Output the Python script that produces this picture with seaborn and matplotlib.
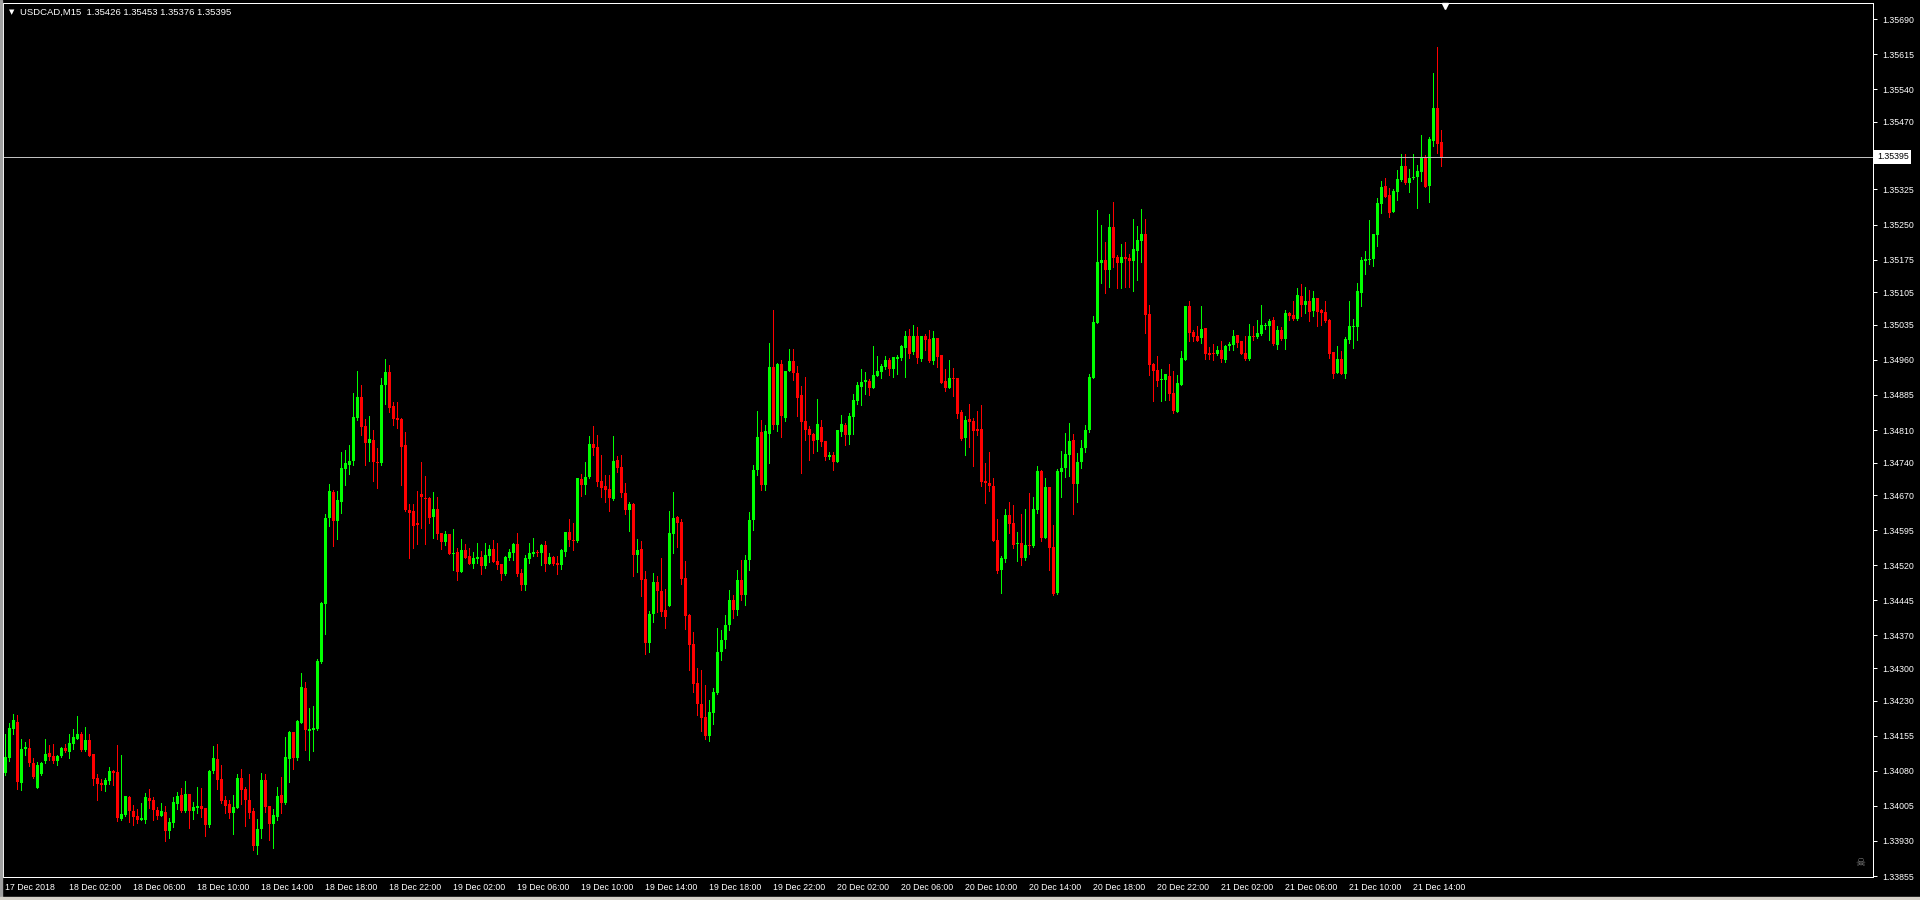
import numpy as np
import pandas as pd
import matplotlib
matplotlib.use("Agg")
import matplotlib.pyplot as plt
import matplotlib.transforms as mtransforms
from matplotlib.patches import Rectangle
import seaborn as sns

# ---- data: USDCAD M15 bars from 17 Dec 2018 22:00 ----
symbol = "USDCAD,M15"
first_bar = "2018-12-17 22:00"

opens = [
    1.34076, 1.34108, 1.34170, 1.34185, 1.34055, 1.34127, 1.34129, 1.34097, 1.34044, 1.34073,
    1.34101, 1.34118, 1.34112, 1.34101, 1.34112, 1.34129, 1.34121, 1.34138, 1.34148, 1.34159,
    1.34125, 1.34146, 1.34116, 1.34065, 1.34054, 1.34050, 1.34058, 1.34079, 1.34078, 1.33977,
    1.33986, 1.34024, 1.33994, 1.33984, 1.33976, 1.33976, 1.34022, 1.34018, 1.33996, 1.33984,
    1.33992, 1.33952, 1.33969, 1.34010, 1.34028, 1.33994, 1.34031, 1.33994, 1.34001, 1.34005,
    1.34001, 1.33964, 1.34080, 1.34106, 1.34063, 1.34018, 1.34009, 1.33989, 1.34001, 1.34065,
    1.34041, 1.34018, 1.33994, 1.33920, 1.33956, 1.34061, 1.34005, 1.33967, 1.33982, 1.34028,
    1.34011, 1.34106, 1.34163, 1.34108, 1.34183, 1.34258, 1.34166, 1.34168, 1.34170, 1.34313,
    1.34437, 1.34622, 1.34677, 1.34615, 1.34656, 1.34727, 1.34735, 1.34744, 1.34836, 1.34881,
    1.34819, 1.34783, 1.34789, 1.34741, 1.34740, 1.34906, 1.34934, 1.34862, 1.34836, 1.34834,
    1.34778, 1.34639, 1.34637, 1.34611, 1.34673, 1.34665, 1.34665, 1.34624, 1.34641, 1.34590,
    1.34570, 1.34587, 1.34545, 1.34549, 1.34506, 1.34553, 1.34540, 1.34523, 1.34534, 1.34538,
    1.34519, 1.34540, 1.34555, 1.34530, 1.34523, 1.34502, 1.34536, 1.34547, 1.34566, 1.34504,
    1.34478, 1.34534, 1.34545, 1.34549, 1.34547, 1.34564, 1.34523, 1.34538, 1.34525, 1.34521,
    1.34549, 1.34592, 1.34575, 1.34572, 1.34705, 1.34692, 1.34709, 1.34780, 1.34774, 1.34701,
    1.34690, 1.34684, 1.34662, 1.34746, 1.34731, 1.34675, 1.34639, 1.34652, 1.34542, 1.34555,
    1.34491, 1.34354, 1.34416, 1.34485, 1.34465, 1.34425, 1.34433, 1.34587, 1.34624, 1.34613,
    1.34493, 1.34414, 1.34352, 1.34268, 1.34223, 1.34196, 1.34155, 1.34204, 1.34247, 1.34335,
    1.34360, 1.34392, 1.34446, 1.34425, 1.34489, 1.34457, 1.34532, 1.34617, 1.34724, 1.34806,
    1.34692, 1.34801, 1.34945, 1.34821, 1.34951, 1.34836, 1.34936, 1.34958, 1.34932, 1.34885,
    1.34829, 1.34812, 1.34801, 1.34789, 1.34816, 1.34786, 1.34752, 1.34757, 1.34742, 1.34806,
    1.34821, 1.34799, 1.34838, 1.34872, 1.34902, 1.34913, 1.34915, 1.34900, 1.34926, 1.34934,
    1.34945, 1.34960, 1.34941, 1.34962, 1.34964, 1.34986, 1.35011, 1.34977, 1.35011, 1.34962,
    1.35011, 1.35005, 1.34958, 1.35007, 1.34971, 1.34915, 1.34900, 1.34921, 1.34921, 1.34849,
    1.34793, 1.34834, 1.34829, 1.34812, 1.34812, 1.34701, 1.34697, 1.34690, 1.34575, 1.34510,
    1.34534, 1.34628, 1.34611, 1.34566, 1.34568, 1.34536, 1.34564, 1.34562, 1.34639, 1.34722,
    1.34579, 1.34688, 1.34560, 1.34461, 1.34720, 1.34729, 1.34757, 1.34789, 1.34694, 1.34742,
    1.34772, 1.34810, 1.34921, 1.35039, 1.35168, 1.35174, 1.35153, 1.35245, 1.35180, 1.35168,
    1.35180, 1.35178, 1.35172, 1.35193, 1.35215, 1.35230, 1.35058, 1.34951, 1.34938, 1.34917,
    1.34917, 1.34926, 1.34889, 1.34849, 1.34906, 1.34960, 1.35075, 1.35020, 1.35011, 1.35007,
    1.35028, 1.34975, 1.34975, 1.34973, 1.34981, 1.34960, 1.34990, 1.34992, 1.35013, 1.35001,
    1.34975, 1.34962, 1.35011, 1.35009, 1.35015, 1.35033, 1.35033, 1.35046, 1.34992, 1.35024,
    1.35005, 1.35061, 1.35056, 1.35048, 1.35097, 1.35078, 1.35086, 1.35065, 1.35093, 1.35067,
    1.35063, 1.35046, 1.34977, 1.34932, 1.34962, 1.34930, 1.35003, 1.35031, 1.35031, 1.35103,
    1.35172, 1.35174, 1.35176, 1.35228, 1.35294, 1.35332, 1.35313, 1.35277, 1.35320, 1.35345,
    1.35375, 1.35339, 1.35350, 1.35352, 1.35362, 1.35395, 1.35332, 1.35429, 1.35499, 1.35426,
]
highs = [
    1.34159, 1.34183, 1.34202, 1.34200, 1.34148, 1.34142, 1.34148, 1.34107, 1.34099, 1.34100,
    1.34148, 1.34136, 1.34138, 1.34114, 1.34131, 1.34137, 1.34160, 1.34170, 1.34198, 1.34163,
    1.34174, 1.34159, 1.34116, 1.34073, 1.34063, 1.34065, 1.34088, 1.34082, 1.34136, 1.34114,
    1.34026, 1.34026, 1.34007, 1.33999, 1.34011, 1.34033, 1.34041, 1.34024, 1.34003, 1.34011,
    1.34005, 1.33979, 1.34024, 1.34035, 1.34043, 1.34058, 1.34031, 1.34014, 1.34046, 1.34044,
    1.34001, 1.34082, 1.34134, 1.34138, 1.34093, 1.34026, 1.34018, 1.34028, 1.34073, 1.34084,
    1.34046, 1.34073, 1.34001, 1.33977, 1.34076, 1.34073, 1.34005, 1.33999, 1.34046, 1.34067,
    1.34153, 1.34166, 1.34163, 1.34189, 1.34290, 1.34270, 1.34215, 1.34219, 1.34320, 1.34442,
    1.34630, 1.34694, 1.34682, 1.34679, 1.34763, 1.34767, 1.34778, 1.34889, 1.34936, 1.34906,
    1.34834, 1.34840, 1.34810, 1.34772, 1.34921, 1.34962, 1.34949, 1.34871, 1.34871, 1.34836,
    1.34806, 1.34652, 1.34652, 1.34679, 1.34742, 1.34712, 1.34667, 1.34677, 1.34667, 1.34590,
    1.34594, 1.34587, 1.34598, 1.34557, 1.34577, 1.34566, 1.34557, 1.34549, 1.34568, 1.34551,
    1.34568, 1.34564, 1.34575, 1.34568, 1.34523, 1.34540, 1.34555, 1.34568, 1.34590, 1.34512,
    1.34542, 1.34568, 1.34579, 1.34553, 1.34566, 1.34572, 1.34547, 1.34540, 1.34540, 1.34555,
    1.34592, 1.34619, 1.34611, 1.34707, 1.34716, 1.34742, 1.34797, 1.34819, 1.34799, 1.34757,
    1.34714, 1.34714, 1.34797, 1.34754, 1.34757, 1.34697, 1.34656, 1.34654, 1.34577, 1.34572,
    1.34508, 1.34422, 1.34504, 1.34497, 1.34536, 1.34470, 1.34637, 1.34677, 1.34626, 1.34619,
    1.34530, 1.34416, 1.34378, 1.34301, 1.34296, 1.34264, 1.34232, 1.34258, 1.34386, 1.34382,
    1.34414, 1.34467, 1.34457, 1.34510, 1.34532, 1.34542, 1.34634, 1.34735, 1.34851, 1.34831,
    1.34821, 1.34996, 1.35067, 1.34953, 1.34960, 1.34936, 1.34983, 1.34983, 1.34947, 1.34904,
    1.34923, 1.34819, 1.34804, 1.34876, 1.34831, 1.34786, 1.34763, 1.34763, 1.34810, 1.34842,
    1.34825, 1.34846, 1.34887, 1.34913, 1.34941, 1.34934, 1.34919, 1.34990, 1.34968, 1.34951,
    1.34968, 1.34964, 1.34966, 1.34971, 1.34992, 1.35022, 1.35026, 1.35035, 1.35031, 1.35011,
    1.35015, 1.35024, 1.35022, 1.35007, 1.34971, 1.34941, 1.34960, 1.34943, 1.34921, 1.34853,
    1.34840, 1.34866, 1.34836, 1.34851, 1.34864, 1.34739, 1.34763, 1.34707, 1.34619, 1.34540,
    1.34641, 1.34656, 1.34650, 1.34592, 1.34630, 1.34641, 1.34675, 1.34667, 1.34733, 1.34724,
    1.34707, 1.34688, 1.34607, 1.34727, 1.34765, 1.34804, 1.34825, 1.34801, 1.34761, 1.34789,
    1.34821, 1.34930, 1.35054, 1.35281, 1.35250, 1.35213, 1.35272, 1.35298, 1.35185, 1.35208,
    1.35213, 1.35187, 1.35262, 1.35247, 1.35283, 1.35262, 1.35078, 1.34953, 1.34968, 1.34941,
    1.34930, 1.34951, 1.34936, 1.34928, 1.34979, 1.35075, 1.35086, 1.35024, 1.35033, 1.35075,
    1.35028, 1.34988, 1.34994, 1.34990, 1.35001, 1.34992, 1.34998, 1.35024, 1.35013, 1.35001,
    1.35011, 1.35037, 1.35033, 1.35046, 1.35078, 1.35039, 1.35048, 1.35052, 1.35033, 1.35031,
    1.35067, 1.35063, 1.35086, 1.35114, 1.35123, 1.35116, 1.35110, 1.35108, 1.35093, 1.35069,
    1.35086, 1.35048, 1.34977, 1.34990, 1.34979, 1.35009, 1.35086, 1.35048, 1.35125, 1.35180,
    1.35193, 1.35260, 1.35230, 1.35307, 1.35343, 1.35350, 1.35328, 1.35326, 1.35367, 1.35401,
    1.35401, 1.35369, 1.35401, 1.35377, 1.35442, 1.35399, 1.35437, 1.35574, 1.35630, 1.35453,
]
lows = [
    1.34071, 1.34102, 1.34160, 1.34041, 1.34040, 1.34114, 1.34091, 1.34064, 1.34044, 1.34071,
    1.34098, 1.34103, 1.34096, 1.34093, 1.34110, 1.34120, 1.34108, 1.34127, 1.34148, 1.34123,
    1.34123, 1.34112, 1.34050, 1.34018, 1.34039, 1.34036, 1.34052, 1.34050, 1.33973, 1.33975,
    1.33984, 1.33971, 1.33965, 1.33969, 1.33976, 1.33969, 1.34001, 1.33976, 1.33978, 1.33984,
    1.33931, 1.33937, 1.33961, 1.33999, 1.33993, 1.33993, 1.33958, 1.33977, 1.33989, 1.33982,
    1.33941, 1.33961, 1.34075, 1.34041, 1.34011, 1.33989, 1.33980, 1.33946, 1.34001, 1.34009,
    1.33963, 1.33980, 1.33911, 1.33903, 1.33936, 1.33992, 1.33933, 1.33914, 1.33976, 1.33989,
    1.34009, 1.34056, 1.34084, 1.34103, 1.34183, 1.34125, 1.34103, 1.34123, 1.34168, 1.34311,
    1.34373, 1.34605, 1.34562, 1.34577, 1.34632, 1.34692, 1.34716, 1.34735, 1.34831, 1.34799,
    1.34734, 1.34744, 1.34701, 1.34686, 1.34734, 1.34866, 1.34849, 1.34821, 1.34814, 1.34692,
    1.34637, 1.34536, 1.34557, 1.34566, 1.34600, 1.34566, 1.34611, 1.34579, 1.34577, 1.34555,
    1.34564, 1.34545, 1.34510, 1.34489, 1.34506, 1.34536, 1.34523, 1.34515, 1.34525, 1.34502,
    1.34515, 1.34527, 1.34527, 1.34512, 1.34489, 1.34500, 1.34532, 1.34532, 1.34497, 1.34467,
    1.34467, 1.34525, 1.34540, 1.34540, 1.34521, 1.34508, 1.34523, 1.34521, 1.34502, 1.34512,
    1.34540, 1.34562, 1.34553, 1.34570, 1.34669, 1.34673, 1.34707, 1.34757, 1.34690, 1.34667,
    1.34656, 1.34637, 1.34660, 1.34720, 1.34667, 1.34630, 1.34594, 1.34497, 1.34506, 1.34455,
    1.34330, 1.34335, 1.34399, 1.34420, 1.34412, 1.34386, 1.34433, 1.34547, 1.34560, 1.34480,
    1.34384, 1.34296, 1.34249, 1.34200, 1.34166, 1.34148, 1.34144, 1.34181, 1.34245, 1.34318,
    1.34343, 1.34382, 1.34407, 1.34414, 1.34446, 1.34435, 1.34510, 1.34596, 1.34714, 1.34682,
    1.34682, 1.34739, 1.34812, 1.34808, 1.34795, 1.34829, 1.34936, 1.34917, 1.34840, 1.34718,
    1.34789, 1.34746, 1.34761, 1.34765, 1.34776, 1.34746, 1.34748, 1.34724, 1.34742, 1.34797,
    1.34778, 1.34780, 1.34801, 1.34866, 1.34864, 1.34887, 1.34885, 1.34900, 1.34926, 1.34921,
    1.34941, 1.34928, 1.34924, 1.34930, 1.34960, 1.34924, 1.34964, 1.34973, 1.34953, 1.34958,
    1.34981, 1.34956, 1.34951, 1.34945, 1.34911, 1.34894, 1.34900, 1.34883, 1.34836, 1.34789,
    1.34757, 1.34774, 1.34733, 1.34799, 1.34690, 1.34654, 1.34679, 1.34572, 1.34504, 1.34461,
    1.34527, 1.34590, 1.34557, 1.34530, 1.34521, 1.34532, 1.34545, 1.34560, 1.34632, 1.34572,
    1.34579, 1.34510, 1.34457, 1.34459, 1.34667, 1.34709, 1.34712, 1.34630, 1.34656, 1.34729,
    1.34763, 1.34806, 1.34921, 1.35039, 1.35125, 1.35104, 1.35117, 1.35159, 1.35115, 1.35115,
    1.35117, 1.35117, 1.35108, 1.35131, 1.35170, 1.35018, 1.34928, 1.34872, 1.34904, 1.34872,
    1.34874, 1.34874, 1.34847, 1.34849, 1.34906, 1.34960, 1.35001, 1.35001, 1.35001, 1.34996,
    1.34962, 1.34962, 1.34960, 1.34971, 1.34956, 1.34956, 1.34981, 1.34981, 1.34988, 1.34973,
    1.34960, 1.34960, 1.35003, 1.35007, 1.35013, 1.35026, 1.35003, 1.34992, 1.34983, 1.35003,
    1.34983, 1.35046, 1.35046, 1.35046, 1.35054, 1.35061, 1.35043, 1.35054, 1.35033, 1.35035,
    1.35041, 1.34964, 1.34921, 1.34932, 1.34930, 1.34921, 1.34996, 1.34986, 1.35003, 1.35075,
    1.35144, 1.35165, 1.35161, 1.35204, 1.35275, 1.35309, 1.35266, 1.35277, 1.35302, 1.35343,
    1.35337, 1.35320, 1.35347, 1.35285, 1.35343, 1.35330, 1.35298, 1.35418, 1.35403, 1.35376,
]
closes = [
    1.34109, 1.34172, 1.34189, 1.34057, 1.34127, 1.34131, 1.34096, 1.34066, 1.34093, 1.34098,
    1.34116, 1.34110, 1.34101, 1.34112, 1.34129, 1.34122, 1.34140, 1.34153, 1.34159, 1.34125,
    1.34146, 1.34113, 1.34063, 1.34053, 1.34050, 1.34061, 1.34080, 1.34076, 1.33980, 1.33988,
    1.34026, 1.33994, 1.33982, 1.33976, 1.33979, 1.34024, 1.34016, 1.33997, 1.33984, 1.33994,
    1.33952, 1.33971, 1.34014, 1.34026, 1.33994, 1.34031, 1.33994, 1.34003, 1.34005, 1.33999,
    1.33964, 1.34080, 1.34108, 1.34061, 1.34016, 1.34005, 1.33989, 1.34003, 1.34065, 1.34039,
    1.34018, 1.33990, 1.33920, 1.33956, 1.34061, 1.34003, 1.33967, 1.33986, 1.34026, 1.34011,
    1.34110, 1.34163, 1.34108, 1.34187, 1.34260, 1.34168, 1.34170, 1.34172, 1.34316, 1.34440,
    1.34622, 1.34679, 1.34615, 1.34660, 1.34729, 1.34739, 1.34744, 1.34838, 1.34881, 1.34816,
    1.34783, 1.34791, 1.34742, 1.34739, 1.34906, 1.34934, 1.34857, 1.34834, 1.34831, 1.34774,
    1.34639, 1.34632, 1.34605, 1.34607, 1.34667, 1.34662, 1.34622, 1.34641, 1.34587, 1.34570,
    1.34587, 1.34545, 1.34547, 1.34506, 1.34553, 1.34536, 1.34523, 1.34536, 1.34538, 1.34519,
    1.34542, 1.34555, 1.34527, 1.34521, 1.34502, 1.34538, 1.34549, 1.34566, 1.34502, 1.34478,
    1.34536, 1.34547, 1.34549, 1.34547, 1.34564, 1.34523, 1.34538, 1.34523, 1.34521, 1.34553,
    1.34592, 1.34575, 1.34572, 1.34707, 1.34692, 1.34709, 1.34780, 1.34771, 1.34699, 1.34686,
    1.34682, 1.34665, 1.34744, 1.34729, 1.34675, 1.34639, 1.34652, 1.34542, 1.34553, 1.34489,
    1.34354, 1.34416, 1.34485, 1.34465, 1.34420, 1.34410, 1.34590, 1.34622, 1.34611, 1.34491,
    1.34412, 1.34350, 1.34266, 1.34223, 1.34193, 1.34155, 1.34206, 1.34249, 1.34335, 1.34360,
    1.34392, 1.34446, 1.34425, 1.34489, 1.34457, 1.34532, 1.34617, 1.34724, 1.34795, 1.34692,
    1.34808, 1.34945, 1.34821, 1.34951, 1.34840, 1.34936, 1.34958, 1.34932, 1.34879, 1.34827,
    1.34810, 1.34799, 1.34786, 1.34823, 1.34784, 1.34752, 1.34757, 1.34742, 1.34810, 1.34823,
    1.34799, 1.34840, 1.34874, 1.34906, 1.34913, 1.34917, 1.34900, 1.34928, 1.34936, 1.34947,
    1.34960, 1.34941, 1.34966, 1.34966, 1.34990, 1.35011, 1.34973, 1.35011, 1.34964, 1.35011,
    1.35003, 1.34958, 1.35007, 1.34966, 1.34911, 1.34900, 1.34921, 1.34919, 1.34844, 1.34791,
    1.34831, 1.34827, 1.34808, 1.34808, 1.34699, 1.34697, 1.34690, 1.34572, 1.34508, 1.34536,
    1.34628, 1.34609, 1.34564, 1.34568, 1.34536, 1.34564, 1.34562, 1.34641, 1.34722, 1.34579,
    1.34688, 1.34557, 1.34459, 1.34722, 1.34729, 1.34759, 1.34786, 1.34694, 1.34742, 1.34772,
    1.34810, 1.34923, 1.35041, 1.35170, 1.35174, 1.35153, 1.35245, 1.35178, 1.35168, 1.35180,
    1.35176, 1.35172, 1.35198, 1.35217, 1.35230, 1.35056, 1.34949, 1.34936, 1.34915, 1.34919,
    1.34930, 1.34887, 1.34851, 1.34911, 1.34964, 1.35075, 1.35018, 1.35009, 1.35001, 1.35026,
    1.34973, 1.34971, 1.34973, 1.34981, 1.34962, 1.34990, 1.34994, 1.35011, 1.34996, 1.34973,
    1.34962, 1.35011, 1.35009, 1.35018, 1.35035, 1.35035, 1.35043, 1.34994, 1.35024, 1.35005,
    1.35061, 1.35054, 1.35048, 1.35099, 1.35078, 1.35086, 1.35063, 1.35093, 1.35063, 1.35061,
    1.35043, 1.34973, 1.34930, 1.34962, 1.34930, 1.35005, 1.35033, 1.35033, 1.35108, 1.35174,
    1.35176, 1.35176, 1.35230, 1.35296, 1.35330, 1.35309, 1.35275, 1.35322, 1.35347, 1.35375,
    1.35339, 1.35350, 1.35352, 1.35365, 1.35395, 1.35330, 1.35433, 1.35499, 1.35422, 1.35395,
]

price_ticks = [1.35690, 1.35615, 1.35540, 1.35470, 1.35325, 1.35250, 1.35175, 1.35105,
               1.35035, 1.34960, 1.34885, 1.34810, 1.34740, 1.34670, 1.34595, 1.34520,
               1.34445, 1.34370, 1.34300, 1.34230, 1.34155, 1.34080, 1.34005, 1.33930,
               1.33855]
last_price = 1.35395
bull, bear = "#00FF00", "#FF0000"

# ---- style ----
sns.set_theme(style="dark", rc={"figure.facecolor": "black", "axes.facecolor": "black",
                                "axes.edgecolor": "white", "axes.grid": False,
                                "xtick.color": "white", "ytick.color": "white"})
plt.rcParams["font.family"] = ["Liberation Sans", "DejaVu Sans"]

df = pd.DataFrame({"time": pd.date_range(first_bar, periods=len(opens), freq="15min"),
                   "open": opens, "high": highs, "low": lows, "close": closes})
df["bar"] = np.arange(len(df))
df["up"] = df["close"] >= df["open"]
colors = np.where(df["up"], bull, bear)
body_lo = df[["open", "close"]].min(axis=1)
body_h = (df["close"] - df["open"]).abs().clip(lower=1.6e-5)

W, H = 1920, 900
fig = plt.figure(figsize=(W / 100, H / 100), dpi=100)
ax = fig.add_axes([3 / W, 23 / H, 1870 / W, 874 / H])
ax.set_facecolor("black")

ax.vlines(df["bar"], df["low"], df["high"], colors=colors, linewidth=0.72, antialiased=False)
ax.bar(df["bar"], body_h, bottom=body_lo, width=0.75, color=colors, linewidth=0,
       antialiased=False)
ax.axhline(last_price, color="#C0C0C0", linewidth=0.72, antialiased=False)

ax.set_xlim(-0.575, 466.925)
ax.set_ylim(1.338529, 1.357243)

# time axis: one label every 16 bars (4 hours)
xt = [0] + list(range(16, len(df), 16))
xl = ["17 Dec 2018"] + [df["time"][i].strftime("%d Dec %H:%M") for i in xt[1:]]
ax.set_xticks(xt)
ax.set_xticklabels(xl)
for lbl in ax.get_xticklabels():
    lbl.set_horizontalalignment("left")
ax.tick_params(axis="x", length=2.9, width=0.72, pad=1.5, labelsize=6.3, colors="white")

ax.yaxis.tick_right()
ax.set_yticks(price_ticks)
ax.set_yticklabels([f"{p:.5f}" for p in price_ticks])
ax.tick_params(axis="y", length=2.9, width=0.72, pad=3.5, labelsize=6.3, colors="white")
for s in ax.spines.values():
    s.set_color("white")
    s.set_linewidth(0.72)

# current price tag
tr = mtransforms.blended_transform_factory(ax.transAxes, ax.transData)
ax.text(1 + 4 / 1870, last_price, f"{last_price:.5f}", transform=tr, ha="left", va="center",
        fontsize=6.3, color="black", clip_on=False,
        bbox=dict(boxstyle="square,pad=0.3", fc="white", ec="none"))

# shift marker at the top
tr2 = mtransforms.blended_transform_factory(ax.transData, ax.transAxes)
ax.plot([359.9], [0.996], marker="v", markersize=5, color="white", transform=tr2,
        clip_on=False, linestyle="none")

# header
fig.text(12 / W, 1 - 12 / H, "▼", color="white", fontsize=5, va="center", ha="center",
         family=["DejaVu Sans"])
fig.text(20 / W, 1 - 12 / H,
         f"{symbol}  {opens[-1]:.5f} {highs[-1]:.5f} {lows[-1]:.5f} {closes[-1]:.5f}",
         color="white", fontsize=6.8, va="center", ha="left")
fig.text(1860 / W, 1 - 863 / H, "☠", color="#8C8C8C", fontsize=8, ha="center", va="center",
         family=["DejaVu Sans"])

# window frame
fig.add_artist(Rectangle((0, 0), 2 / W, 1, transform=fig.transFigure, color="#A0A0A0"))
fig.add_artist(Rectangle((0, 0), 1, 3 / H, transform=fig.transFigure, color="#D4D0C8"))

fig.savefig("out.png", dpi=100, facecolor="black")
